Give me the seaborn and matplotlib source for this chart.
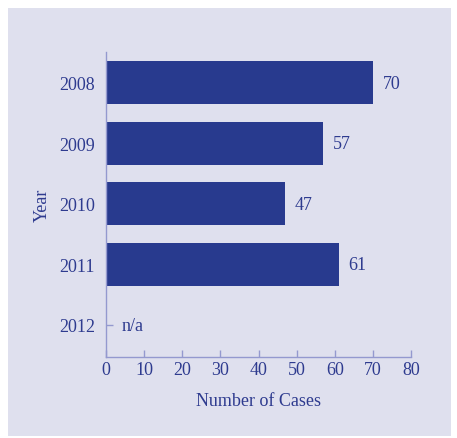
import matplotlib
matplotlib.use('Agg')
import matplotlib.pyplot as plt
import seaborn as sns
import pandas as pd
from matplotlib.patches import Rectangle

years = ['2008', '2009', '2010', '2011', '2012']
cases = [70, 57, 47, 61, 0]
labels = ['70', '57', '47', '61', 'n/a']

BG = '#dfe0ee'
BAR = '#283a8e'
TEXT = '#2e3b8f'
SPINE = '#9499cf'

sns.set_theme(style='white')
plt.rcParams['font.family'] = ['Liberation Serif', 'DejaVu Serif']

df = pd.DataFrame({'year': years, 'cases': cases})

fig = plt.figure(figsize=(4.57, 4.39), dpi=100)
fig.patch.set_facecolor('white')
# lavender panel behind everything
fig.patches.append(Rectangle((8 / 457, 2 / 439), 443 / 457, 428 / 439,
                             transform=fig.transFigure, facecolor=BG,
                             edgecolor='none', zorder=-10))
ax = fig.add_axes([106 / 457, 81 / 439, 305 / 457, 305 / 439])
ax.set_facecolor(BG)
ax.set_zorder(1)

sns.barplot(data=df, x='cases', y='year', orient='h', color=BAR,
            width=0.71, saturation=1, linewidth=0, ax=ax)

# value labels (n/a for the missing year)
for i, (v, t) in enumerate(zip(cases, labels)):
    ax.text(v + 2.6 if v else 4, i - 0.03, t, va='center_baseline', ha='left',
            color=TEXT, fontsize=13)

ax.set_xlim(0, 80)
ax.set_ylim(4.53, -0.51)
ax.set_xticks(range(0, 81, 10))
ax.set_xlabel('Number of Cases', color=TEXT, fontsize=13, labelpad=10)
ax.set_ylabel('Year', color=TEXT, fontsize=13, labelpad=6)
ax.tick_params(axis='both', direction='in', colors=SPINE, labelcolor=TEXT,
               labelsize=13, length=5, width=1, bottom=True, left=True)
ax.tick_params(axis='y', pad=8)
ax.tick_params(axis='x', pad=3)
for lab in ax.get_yticklabels():
    lab.set_verticalalignment('center_baseline')
for s in ['top', 'right']:
    ax.spines[s].set_visible(False)
for s in ['left', 'bottom']:
    ax.spines[s].set_color(SPINE)
    ax.spines[s].set_linewidth(1)

fig.savefig('out.png', dpi=100, facecolor='white')
